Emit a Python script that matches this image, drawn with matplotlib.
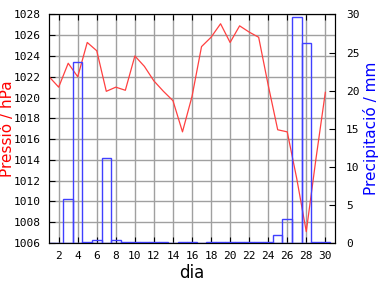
import numpy as np
import matplotlib
matplotlib.use('Agg')
import matplotlib.pyplot as plt

# dades diàries
dies = np.arange(1, 31)
pressio = [1022.0, 1021.0, 1023.3, 1022.0, 1025.3, 1024.5, 1020.6, 1021.0, 1020.7, 1024.0,
           1023.0, 1021.6, 1020.6, 1019.7, 1016.7, 1020.1, 1024.9, 1025.8, 1027.1, 1025.3,
           1026.9, 1026.3, 1025.8, 1021.2, 1016.9, 1016.7, 1012.2, 1007.1, 1014.0, 1020.5]
precip = [0, 0, 5.8, 23.8, 0.2, 0.4, 11.1, 0.4, 0.2, 0.2,
          0.2, 0.2, 0.2, 0, 0.2, 0.2, 0, 0.2, 0.2, 0.2,
          0.2, 0.2, 0.2, 0.2, 1.1, 3.1, 29.6, 26.2, 0.2, 0.2]

vermell = '#ff4040'
blau = '#4040ff'
mono = 'DejaVu Sans Mono'

fig = plt.figure(figsize=(3.84, 2.88), dpi=100)
ax = fig.add_axes([0.128, 0.156, 0.744, 0.794])
ax2 = ax.twinx()

ax.plot(dies, pressio, color=vermell, lw=0.9)
ax2.bar(dies, precip, width=1.0, fill=False, edgecolor=blau, lw=1.0)

ax.set_xlim(1, 31)
ax.set_ylim(1006, 1028)
ax2.set_ylim(0, 30)
ax.set_xticks(range(2, 31, 2))
ax.set_yticks(range(1006, 1029, 2))
ax2.set_yticks(range(0, 31, 5))

ax.grid(True, color='#a0a0a0', lw=1.0)
ax.set_axisbelow(True)

ax.tick_params(direction='in', length=4, top=True, labelsize=8, pad=6)
ax2.tick_params(direction='in', length=4, labelsize=8, pad=8)
for lab in ax.get_xticklabels() + ax.get_yticklabels() + ax2.get_yticklabels():
    lab.set_family(mono)

ax.set_xlabel('dia', fontsize=12, labelpad=2)
ax.set_ylabel('Pressió / hPa', color='red', fontsize=11)
ax2.set_ylabel('Precipitació / mm', color='blue', fontsize=11)
ax.yaxis.set_label_coords(-0.12, 0.5)
ax2.yaxis.set_label_coords(1.097, 0.5)

fig.savefig('out.png', dpi=100)
